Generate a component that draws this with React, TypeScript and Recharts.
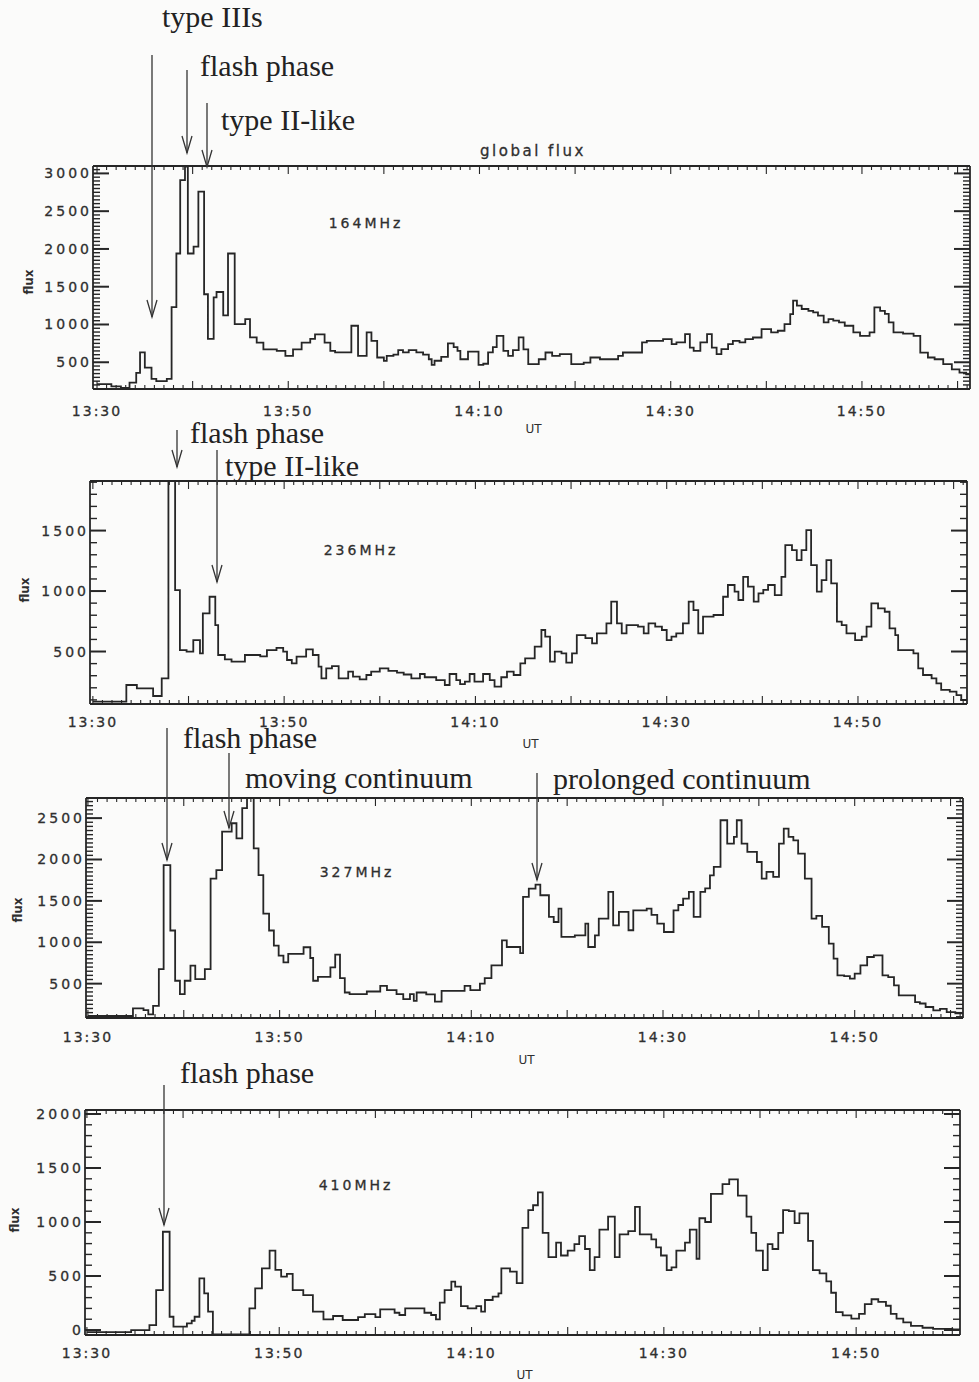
import { LineChart, Line, XAxis, YAxis } from "recharts";

// step starts (minutes after 13:30 UT) and flux of each step
const t164 = [
  0, 1.5, 2.5, 3.4, 4.1, 4.5, 5.0, 5.7, 6.2, 7.3,
  7.8, 8.3, 8.7, 9.2, 9.5, 10.1, 10.6, 11.2, 11.6, 12.2,
  12.5, 13.2, 13.7, 14.4, 15.5, 16.0, 16.7, 17.4, 18.8, 19.7,
  20.5, 21.4, 22.3, 22.8, 23.8, 24.4, 24.9, 26.6, 27.3, 28.2,
  28.7, 29.3, 30.0, 30.3, 31.0, 31.5, 32.0, 32.6, 33.4, 34.1,
  34.7, 35.0, 35.3, 36.0, 36.7, 37.3, 37.7, 38.0, 38.8, 39.9,
  40.4, 40.9, 41.4, 41.8, 42.5, 43.0, 43.5, 44.1, 44.6, 45.1,
  46.2, 46.9, 47.6, 48.4, 49.6, 50.9, 51.6, 52.6, 54.5, 55.0,
  57.0, 57.5, 59.2, 60.1, 60.6, 61.5, 62.0, 62.4, 63.1, 63.8,
  64.3, 64.8, 65.3, 66.0, 66.5, 67.2, 67.8, 68.6, 69.5, 70.5,
  71.2, 71.9, 72.5, 72.8, 73.2, 73.7, 74.4, 74.9, 75.4, 76.0,
  76.5, 77.0, 77.6, 78.2, 79.1, 79.8, 80.8, 81.3, 81.9, 82.4,
  82.8, 83.3, 84.3, 85.4, 86.1, 86.9, 87.6, 88.5, 89.4, 90.2,
  90.9, 91.4,
];
const f164 = [
  210, 180, 160, 230, 360, 630, 430, 280, 250, 280,
  1230, 1940, 2910, 3090, 1940, 2030, 2760, 1400, 810, 1360,
  1430, 1120, 1940, 1005, 1070, 830, 760, 670, 650, 585,
  670, 760, 810, 870, 760, 650, 630, 983, 585, 895,
  784, 563, 518, 585, 600, 660, 630, 660, 630, 600,
  540, 465, 520, 570, 750, 700, 650, 540, 640, 465,
  480, 630, 700, 850, 650, 585, 660, 830, 670, 474,
  540, 629, 585, 607, 474, 496, 563, 540, 585, 629,
  762, 784, 806, 740, 762, 873, 695, 650, 762, 873,
  695, 607, 673, 740, 784, 762, 806, 828, 939, 895,
  917, 1005, 1138, 1316, 1249, 1205, 1180, 1160, 1116, 1028,
  1072, 1050, 1028, 983, 895, 850, 895, 1227, 1180, 1140,
  1028, 895, 880, 850, 628, 563, 540, 474, 407, 363,
  341, 341,
];

const t236 = [
  0, 3.5, 4.6, 6.3, 7.2, 7.9, 8.6, 9.1, 9.8, 10.5,
  11.2, 11.5, 12.2, 12.8, 13.1, 13.8, 14.5, 15.9, 17.5, 18.2,
  19.2, 19.9, 20.3, 20.8, 21.3, 22.3, 23.0, 23.6, 23.9, 24.4,
  25.0, 25.7, 26.7, 27.2, 27.9, 28.6, 29.1, 30.0, 30.9, 31.8,
  32.5, 33.3, 34.2, 34.7, 35.9, 36.8, 37.3, 38.0, 38.4, 38.9,
  39.4, 39.9, 40.8, 41.5, 42.0, 42.7, 43.3, 44.0, 44.7, 45.2,
  46.2, 46.9, 47.3, 47.8, 48.3, 49.0, 49.5, 50.1, 50.6, 51.5,
  52.2, 52.7, 53.7, 54.2, 54.8, 55.3, 55.8, 57.0, 57.6, 58.1,
  58.8, 59.5, 60.0, 60.5, 61.0, 61.7, 62.3, 62.8, 63.3, 63.8,
  64.9, 65.9, 66.4, 67.1, 67.5, 68.0, 68.5, 69.1, 69.6, 70.1,
  70.6, 71.3, 72.0, 72.4, 73.1, 73.6, 74.1, 74.6, 75.1, 75.7,
  76.2, 76.7, 77.2, 77.8, 78.3, 78.8, 79.7, 80.4, 80.9, 81.4,
  82.1, 82.8, 83.3, 83.9, 84.2, 85.8, 86.3, 86.8, 87.7, 88.2,
  88.7, 89.6, 90.3, 90.8, 91.4,
];
const f236 = [
  85, 223, 196, 132, 278, 2000, 1008, 512, 499, 595,
  485, 815, 953, 719, 471, 435, 416, 471, 460, 512,
  530, 499, 430, 402, 457, 518, 471, 375, 278, 361,
  380, 278, 333, 292, 270, 306, 333, 361, 340, 325,
  310, 278, 314, 287, 264, 223, 314, 264, 231, 251,
  314, 251, 314, 264, 209, 287, 333, 306, 402, 444,
  540, 678, 623, 416, 499, 485, 408, 485, 636, 610,
  568, 650, 733, 912, 733, 650, 719, 705, 650, 733,
  705, 678, 595, 623, 650, 733, 912, 843, 650, 788,
  802, 953, 1050, 995, 926, 1118, 1036, 912, 981, 1010,
  1050, 967, 1118, 1380, 1339, 1256, 1339, 1504, 1215, 995,
  1091, 1256, 1063, 747, 719, 650, 595, 623, 705, 898,
  857, 829, 692, 636, 512, 485, 361, 306, 278, 237,
  182, 168, 140, 99, 99,
];

const t327 = [
  0, 4.7, 5.8, 6.3, 6.8, 7.4, 7.9, 8.6, 9.1, 9.6,
  10.1, 10.7, 11.2, 12.2, 12.8, 13.4, 14.0, 15.0, 15.5, 16.1,
  16.6, 17.3, 17.8, 18.3, 18.9, 19.4, 19.9, 20.4, 20.9, 22.5,
  23.2, 23.5, 24.0, 25.3, 25.8, 26.3, 26.8, 27.3, 29.1, 30.5,
  31.2, 32.2, 32.9, 33.6, 34.0, 34.3, 35.3, 36.2, 36.9, 39.3,
  39.9, 40.9, 41.4, 42.1, 43.2, 43.7, 45.1, 45.4, 46.0, 46.7,
  47.2, 48.1, 48.6, 49.1, 49.4, 50.8, 51.9, 52.2, 52.9, 53.3,
  54.3, 54.8, 55.4, 56.4, 56.9, 58.3, 58.8, 59.4, 60.1, 61.1,
  61.6, 62.1, 62.7, 63.2, 63.9, 64.4, 64.9, 65.3, 66.0, 66.7,
  67.4, 67.7, 68.2, 68.8, 69.8, 70.3, 70.8, 71.5, 72.1, 72.6,
  73.1, 73.6, 74.1, 74.8, 75.5, 76.0, 76.6, 77.3, 77.8, 78.2,
  78.9, 79.5, 80.0, 80.6, 81.3, 82.0, 82.9, 83.5, 84.1, 84.6,
  86.3, 86.8, 87.4, 88.2, 88.9, 89.6, 90.5, 91.4,
];
const f327 = [
  109, 202, 180, 130, 231, 676, 1932, 1142, 535, 373,
  535, 717, 555, 676, 1770, 1871, 2337, 2438, 2256, 2620,
  2800, 2134, 1810, 1345, 1142, 960, 838, 757, 859, 940,
  810, 535, 583, 697, 850, 567, 393, 373, 405, 474,
  421, 373, 312, 373, 292, 393, 370, 284, 413, 474,
  421, 500, 567, 720, 1024, 943, 870, 1548, 1648, 1697,
  1568, 1306, 1245, 1406, 1064, 1084, 1225, 943, 1084, 1286,
  1608, 1205, 1366, 1145, 1386, 1406, 1330, 1225, 1124, 1386,
  1450, 1527, 1608, 1306, 1608, 1650, 1809, 1910, 2474, 2192,
  2273, 2474, 2192, 2092, 1970, 1769, 1850, 1789, 2192, 2374,
  2273, 2230, 2071, 1769, 1286, 1320, 1185, 983, 802, 600,
  590, 560, 620, 721, 822, 842, 600, 580, 480, 359,
  278, 260, 218, 177, 195, 157, 140, 140,
];

const t410 = [
  0, 4.6, 6.5, 7.2, 7.9, 8.6, 9.0, 10.4, 10.9, 11.2,
  11.7, 12.2, 12.6, 13.1, 16.9, 17.5, 18.2, 19.0, 19.6, 20.2,
  20.8, 21.4, 22.5, 23.5, 24.6, 25.6, 26.6, 28.2, 28.9, 30.0,
  30.5, 32.0, 32.5, 33.1, 35.1, 35.8, 36.3, 36.7, 37.2, 37.9,
  38.3, 38.9, 39.6, 40.5, 41.0, 41.4, 42.2, 42.8, 43.1, 44.0,
  44.7, 45.3, 45.9, 46.4, 46.9, 47.4, 48.0, 48.8, 49.3, 50.0,
  50.7, 51.2, 51.8, 52.3, 52.8, 53.3, 54.2, 54.9, 55.4, 56.3,
  57.0, 57.5, 58.7, 59.2, 59.7, 60.3, 60.8, 61.3, 62.2, 62.7,
  63.4, 63.7, 64.3, 64.9, 66.1, 66.8, 67.7, 68.6, 69.1, 69.6,
  70.3, 70.8, 71.3, 71.9, 72.4, 73.0, 73.6, 74.1, 75.0, 75.5,
  76.2, 76.9, 77.4, 77.9, 78.6, 79.5, 80.3, 80.9, 81.6, 82.3,
  83.1, 83.6, 84.2, 84.9, 85.7, 86.9, 88.0, 90.0, 91.0,
];
const f410 = [
  -20, 0, 46, 370, 910, 123, 31, 62, 86, 123,
  478, 340, 170, -40, 200, 386, 571, 735, 556, 494,
  519, 370, 324, 170, 99, 130, 93, 120, 148, 120,
  191, 160, 139, 201, 160, 139, 99, 253, 370, 448,
  401, 222, 200, 222, 170, 278, 309, 340, 570, 540,
  435, 945, 1110, 1155, 1275, 900, 675, 810, 690, 735,
  795, 870, 750, 555, 675, 930, 1050, 675, 885, 915,
  1140, 885, 840, 765, 690, 555, 580, 735, 810, 930,
  660, 1035, 1000, 1260, 1350, 1395, 1245, 1050, 900, 735,
  555, 795, 750, 900, 1110, 1100, 990, 1080, 825, 555,
  525, 450, 345, 165, 135, 105, 150, 240, 285, 260,
  225, 150, 105, 70, 39, 21, 10, 5, 5,
];

const annotations = [
  { text: "type IIIs", x: 162, y: 27 },
  { text: "flash phase", x: 200, y: 76 },
  { text: "type II-like", x: 221, y: 130 },
  { text: "flash phase", x: 190, y: 443 },
  { text: "type II-like", x: 225, y: 476 },
  { text: "flash phase", x: 183, y: 748 },
  { text: "moving continuum", x: 245, y: 788 },
  { text: "prolonged continuum", x: 553, y: 789 },
  { text: "flash phase", x: 180, y: 1083 },
];

// x, start y, tip y
const arrows = [
  [152, 55, 317], [187, 70, 153], [207, 103, 167],
  [177, 430, 467], [217, 450, 582],
  [167, 728, 860], [229, 753, 828], [537, 773, 880],
  [164, 1085, 1225],
];

const INK = "#262626";
const TXT = "#2f2f2f";
const SANS = "'DejaVu Sans', sans-serif";

interface PanelSpec {
  name: string;
  t: number[];
  f: number[];
  box: [number, number, number, number]; // left, top, right, bottom
  x: [number, number];
  y: [number, number];
  major: number;
  minor: number;
  labelDy: number;
  freqAt: [number, number];
  fluxAt: [number, number];
  utY: number;
}

const panels: PanelSpec[] = [
  { name: "164MHz", t: t164, f: f164, box: [93, 166, 970, 389], x: [-0.42, 91.3], y: [146, 3098],
    major: 500, minor: 50, labelDy: 27, freqAt: [366, 228], fluxAt: [33, 282], utY: 433 },
  { name: "236MHz", t: t236, f: f236, box: [90, 481, 967, 704], x: [-0.3, 91.4], y: [66, 1910],
    major: 500, minor: 100, labelDy: 23, freqAt: [361, 555], fluxAt: [29, 590], utY: 748 },
  { name: "327MHz", t: t327, f: f327, box: [86, 798, 963, 1018], x: [-0.2, 91.3], y: [85, 2743],
    major: 500, minor: 50, labelDy: 24, freqAt: [357, 877], fluxAt: [22, 910], utY: 1064 },
  { name: "410MHz", t: t410, f: f410, box: [85, 1110, 960, 1335], x: [-0.2, 90.8], y: [-46, 2037],
    major: 500, minor: 100, labelDy: 23, freqAt: [356, 1190], fluxAt: [19, 1220], utY: 1379 },
];

function steps(from: number, to: number, step: number) {
  const out: number[] = [];
  for (let i = Math.ceil(from / step); i * step <= to; i++) out.push(i * step);
  return out;
}

function hhmm(m: number) {
  const tot = 13 * 60 + 30 + m;
  return `${Math.floor(tot / 60)}:${String(tot % 60).padStart(2, "0")}`;
}

function FluxPanel({ p }: { p: PanelSpec }) {
  const [left, top, right, bottom] = p.box;
  const data = p.t.map((t, i) => ({ t, flux: p.f[i] }));
  const xTicks = steps(p.x[0], p.x[1], 1);
  const yTicks = steps(p.y[0], p.y[1], p.minor);
  const axisLine = { stroke: INK, strokeWidth: 1.8 };

  return (
    <div style={{ position: "absolute", left: 0, top: top - 10 }}>
      <LineChart
        width={979}
        height={bottom - top + 55}
        data={data}
        margin={{ top: 0, right: 979 - right - 5, bottom: 0, left: 0 }}
      >
        <XAxis
          xAxisId="b" dataKey="t" type="number" domain={p.x} allowDataOverflow
          ticks={xTicks} interval={0} tickSize={0} tickMargin={0} tickLine={false}
          height={45} axisLine={axisLine}
          tick={(props: any) => {
            const v = props.payload.value;
            return (
              <g>
                <line x1={props.x} y1={props.y} x2={props.x} y2={props.y - (v % 10 === 0 ? 8 : 4)} stroke={INK} strokeWidth={1.1} />
                {v % 20 === 0 && (
                  <text x={props.x} y={props.y + p.labelDy} textAnchor="middle" fontFamily={SANS}
                    fontSize={14} letterSpacing={2} fill={TXT} stroke={TXT} strokeWidth={0.3}>{hhmm(v)}</text>
                )}
              </g>
            );
          }}
        />
        <XAxis
          xAxisId="top" orientation="top" dataKey="t" type="number" domain={p.x} allowDataOverflow
          ticks={xTicks} interval={0} tickSize={0} tickMargin={0} tickLine={false}
          height={10} axisLine={axisLine}
          tick={(props: any) => {
            const v = props.payload.value;
            return <line x1={props.x} y1={props.y} x2={props.x} y2={props.y + (v % 10 === 0 ? 8 : 4)} stroke={INK} strokeWidth={1.1} />;
          }}
        />
        <YAxis
          yAxisId="l" type="number" domain={p.y} allowDataOverflow
          ticks={yTicks} interval={0} tickSize={0} tickMargin={0} tickLine={false}
          width={left} axisLine={axisLine}
          tick={(props: any) => {
            const v = props.payload.value;
            const isMajor = v % p.major === 0;
            return (
              <g>
                <line x1={props.x} y1={props.y} x2={props.x + (isMajor ? 16 : 7)} y2={props.y} stroke={INK} strokeWidth={isMajor ? 2 : 1.4} />
                {isMajor && (
                  <text x={props.x - 1} y={props.y + 5} textAnchor="end" fontFamily={SANS}
                    fontSize={14} letterSpacing={3} fill={TXT} stroke={TXT} strokeWidth={0.3}>{v}</text>
                )}
              </g>
            );
          }}
        />
        <YAxis
          yAxisId="r" orientation="right" type="number" domain={p.y} allowDataOverflow
          ticks={yTicks} interval={0} tickSize={0} tickMargin={0} tickLine={false}
          width={5} axisLine={axisLine}
          tick={(props: any) => {
            const v = props.payload.value;
            const isMajor = v % p.major === 0;
            return <line x1={props.x} y1={props.y} x2={props.x - (isMajor ? 16 : 7)} y2={props.y} stroke={INK} strokeWidth={isMajor ? 2 : 1.4} />;
          }}
        />
        <Line
          xAxisId="b" yAxisId="l" type="stepAfter" dataKey="flux"
          stroke={INK} strokeWidth={1.8} dot={false} activeDot={false}
          isAnimationActive={false}
        />
      </LineChart>
    </div>
  );
}

export default function App() {
  return (
    <div style={{ position: "absolute", left: 0, top: 0, width: 979, height: 1382, background: "#fbfbfa", overflow: "hidden" }}>
      {panels.map((p) => <FluxPanel key={p.name} p={p} />)}
      <svg width={979} height={1382} style={{ position: "absolute", left: 0, top: 0, pointerEvents: "none" }}>
        <text x={533} y={156} textAnchor="middle" fontFamily={SANS} fontSize={15} letterSpacing={2.5} fill={TXT} stroke={TXT} strokeWidth={0.3}>global flux</text>
        {panels.map((p) => (
          <g key={p.name}>
            <text x={p.freqAt[0]} y={p.freqAt[1]} textAnchor="middle" fontFamily={SANS} fontSize={14} letterSpacing={3} fill={TXT} stroke={TXT} strokeWidth={0.3}>{p.name}</text>
            <text x={p.fluxAt[0]} y={p.fluxAt[1]} textAnchor="middle" fontFamily={SANS} fontSize={12} fontWeight="bold" fill={TXT}
              transform={`rotate(-90 ${p.fluxAt[0]} ${p.fluxAt[1]})`}>flux</text>
            <text x={(p.box[0] + p.box[2]) / 2 + 2} y={p.utY} textAnchor="middle" fontFamily={SANS} fontSize={12} fill={TXT}>UT</text>
          </g>
        ))}
        {annotations.map((a, i) => (
          <text key={i} x={a.x} y={a.y} fontFamily="'Liberation Serif', serif" fontSize={30} fill="#222">{a.text}</text>
        ))}
        {arrows.map(([x, y0, y1], i) => (
          <g key={i} stroke="#333" strokeWidth={1.3} fill="none">
            <line x1={x} y1={y0} x2={x} y2={y1} />
            <polyline points={`${x - 5},${y1 - 17} ${x},${y1} ${x + 5},${y1 - 17}`} />
          </g>
        ))}
      </svg>
    </div>
  );
}
